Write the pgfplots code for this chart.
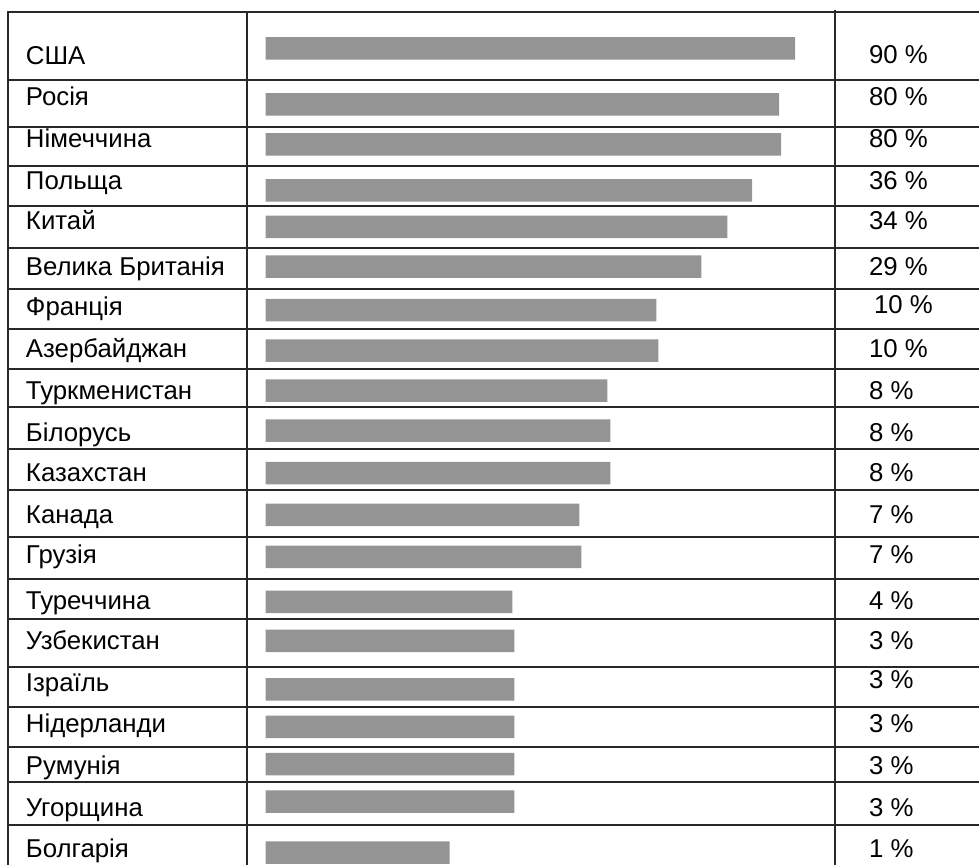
\documentclass[border=0pt]{standalone}
\usepackage{pgfplots}
\pgfplotsset{compat=1.18}
\usepackage{fontspec}
\setmainfont{Liberation Sans}
\definecolor{bargray}{RGB}{148,148,148}
\definecolor{rulec}{RGB}{40,40,40}
\tikzset{lbl/.style={anchor=base west,inner sep=0pt,outer sep=0pt,font=\fontsize{12.9}{15}\selectfont}}
\begin{document}
\begin{tikzpicture}
\begin{axis}[width=490pt,height=433pt,scale only axis,
  xmin=-266,xmax=714,ymin=0,ymax=866,y dir=reverse,
  axis lines=none, clip=false, xbar, bar width=22.5]
\path (axis cs:-266,0) rectangle (axis cs:714,866);
% bar length (px from bar start), bar centre (px from top)
\addplot[fill=bargray,draw=none] table[x=len,y=yc] {
len yc
530 48.5
514 104.5
516 144.5
487 190.5
462 227
436 267
391 310.5
393 351
342 391
345 431
345 473.5
314 515.5
316 557.5
247 602.5
249 641.5
249 690
249 727.5
249 765
249 802.5
184 853.5
};
% table rules
\draw[rulec,line width=1pt] (axis cs:-258,11.7) -- (axis cs:714,11.7);
\draw[rulec,line width=1pt] (axis cs:-258,80) -- (axis cs:714,80);
\draw[rulec,line width=1pt] (axis cs:-258,126.7) -- (axis cs:714,126.7);
\draw[rulec,line width=1pt] (axis cs:-258,165.7) -- (axis cs:714,165.7);
\draw[rulec,line width=1pt] (axis cs:-258,206.7) -- (axis cs:714,206.7);
\draw[rulec,line width=1pt] (axis cs:-258,248.3) -- (axis cs:714,248.3);
\draw[rulec,line width=1pt] (axis cs:-258,289.3) -- (axis cs:714,289.3);
\draw[rulec,line width=1pt] (axis cs:-258,329.3) -- (axis cs:714,329.3);
\draw[rulec,line width=1pt] (axis cs:-258,369.3) -- (axis cs:714,369.3);
\draw[rulec,line width=1pt] (axis cs:-258,407.7) -- (axis cs:714,407.7);
\draw[rulec,line width=1pt] (axis cs:-258,449) -- (axis cs:714,449);
\draw[rulec,line width=1pt] (axis cs:-258,490.3) -- (axis cs:714,490.3);
\draw[rulec,line width=1pt] (axis cs:-258,538) -- (axis cs:714,538);
\draw[rulec,line width=1pt] (axis cs:-258,579.7) -- (axis cs:714,579.7);
\draw[rulec,line width=1pt] (axis cs:-258,619.7) -- (axis cs:714,619.7);
\draw[rulec,line width=1pt] (axis cs:-258,668) -- (axis cs:714,668);
\draw[rulec,line width=1pt] (axis cs:-258,708) -- (axis cs:714,708);
\draw[rulec,line width=1pt] (axis cs:-258,748) -- (axis cs:714,748);
\draw[rulec,line width=1pt] (axis cs:-258,782.3) -- (axis cs:714,782.3);
\draw[rulec,line width=1pt] (axis cs:-258,825.7) -- (axis cs:714,825.7);
\draw[rulec,line width=1pt] (axis cs:-258,11.2) -- (axis cs:-258,866);
\draw[rulec,line width=1pt] (axis cs:-19,13) -- (axis cs:-19,866);
\draw[rulec,line width=1pt] (axis cs:570,10) -- (axis cs:570,866);
% country names
\node[lbl] at (axis cs:-240,65) {США};
\node[lbl] at (axis cs:-240,106) {Росія};
\node[lbl] at (axis cs:-240,148) {Німеччина};
\node[lbl] at (axis cs:-240,190) {Польща};
\node[lbl] at (axis cs:-240,229.5) {Китай};
\node[lbl] at (axis cs:-240,275.5) {Велика Британія};
\node[lbl] at (axis cs:-240,315.5) {Франція};
\node[lbl] at (axis cs:-240,357.5) {Азербайджан};
\node[lbl] at (axis cs:-240,399.5) {Туркменистан};
\node[lbl] at (axis cs:-240,441.5) {Білорусь};
\node[lbl] at (axis cs:-240,481.5) {Казахстан};
\node[lbl] at (axis cs:-240,524.5) {Канада};
\node[lbl] at (axis cs:-240,564.5) {Грузія};
\node[lbl] at (axis cs:-240,610.5) {Туреччина};
\node[lbl] at (axis cs:-240,650.5) {Узбекистан};
\node[lbl] at (axis cs:-240,692.5) {Ізраїль};
\node[lbl] at (axis cs:-240,733) {Нідерланди};
\node[lbl] at (axis cs:-240,775) {Румунія};
\node[lbl] at (axis cs:-240,817) {Угорщина};
\node[lbl] at (axis cs:-240,858) {Болгарія};
% percentages
\node[lbl] at (axis cs:604,64) {90 \%};
\node[lbl] at (axis cs:604,106) {80 \%};
\node[lbl] at (axis cs:604,148) {80 \%};
\node[lbl] at (axis cs:604,190) {36 \%};
\node[lbl] at (axis cs:604,229.5) {34 \%};
\node[lbl] at (axis cs:604,275.5) {29 \%};
\node[lbl] at (axis cs:609,313.5) {10 \%};
\node[lbl] at (axis cs:604,357.5) {10 \%};
\node[lbl] at (axis cs:604,399.5) {8 \%};
\node[lbl] at (axis cs:604,441.5) {8 \%};
\node[lbl] at (axis cs:604,481.5) {8 \%};
\node[lbl] at (axis cs:604,524.5) {7 \%};
\node[lbl] at (axis cs:604,564.5) {7 \%};
\node[lbl] at (axis cs:604,610.5) {4 \%};
\node[lbl] at (axis cs:604,650.5) {3 \%};
\node[lbl] at (axis cs:604,689) {3 \%};
\node[lbl] at (axis cs:604,733) {3 \%};
\node[lbl] at (axis cs:604,775) {3 \%};
\node[lbl] at (axis cs:604,817) {3 \%};
\node[lbl] at (axis cs:604,858) {1 \%};
\end{axis}
\end{tikzpicture}
\end{document}
